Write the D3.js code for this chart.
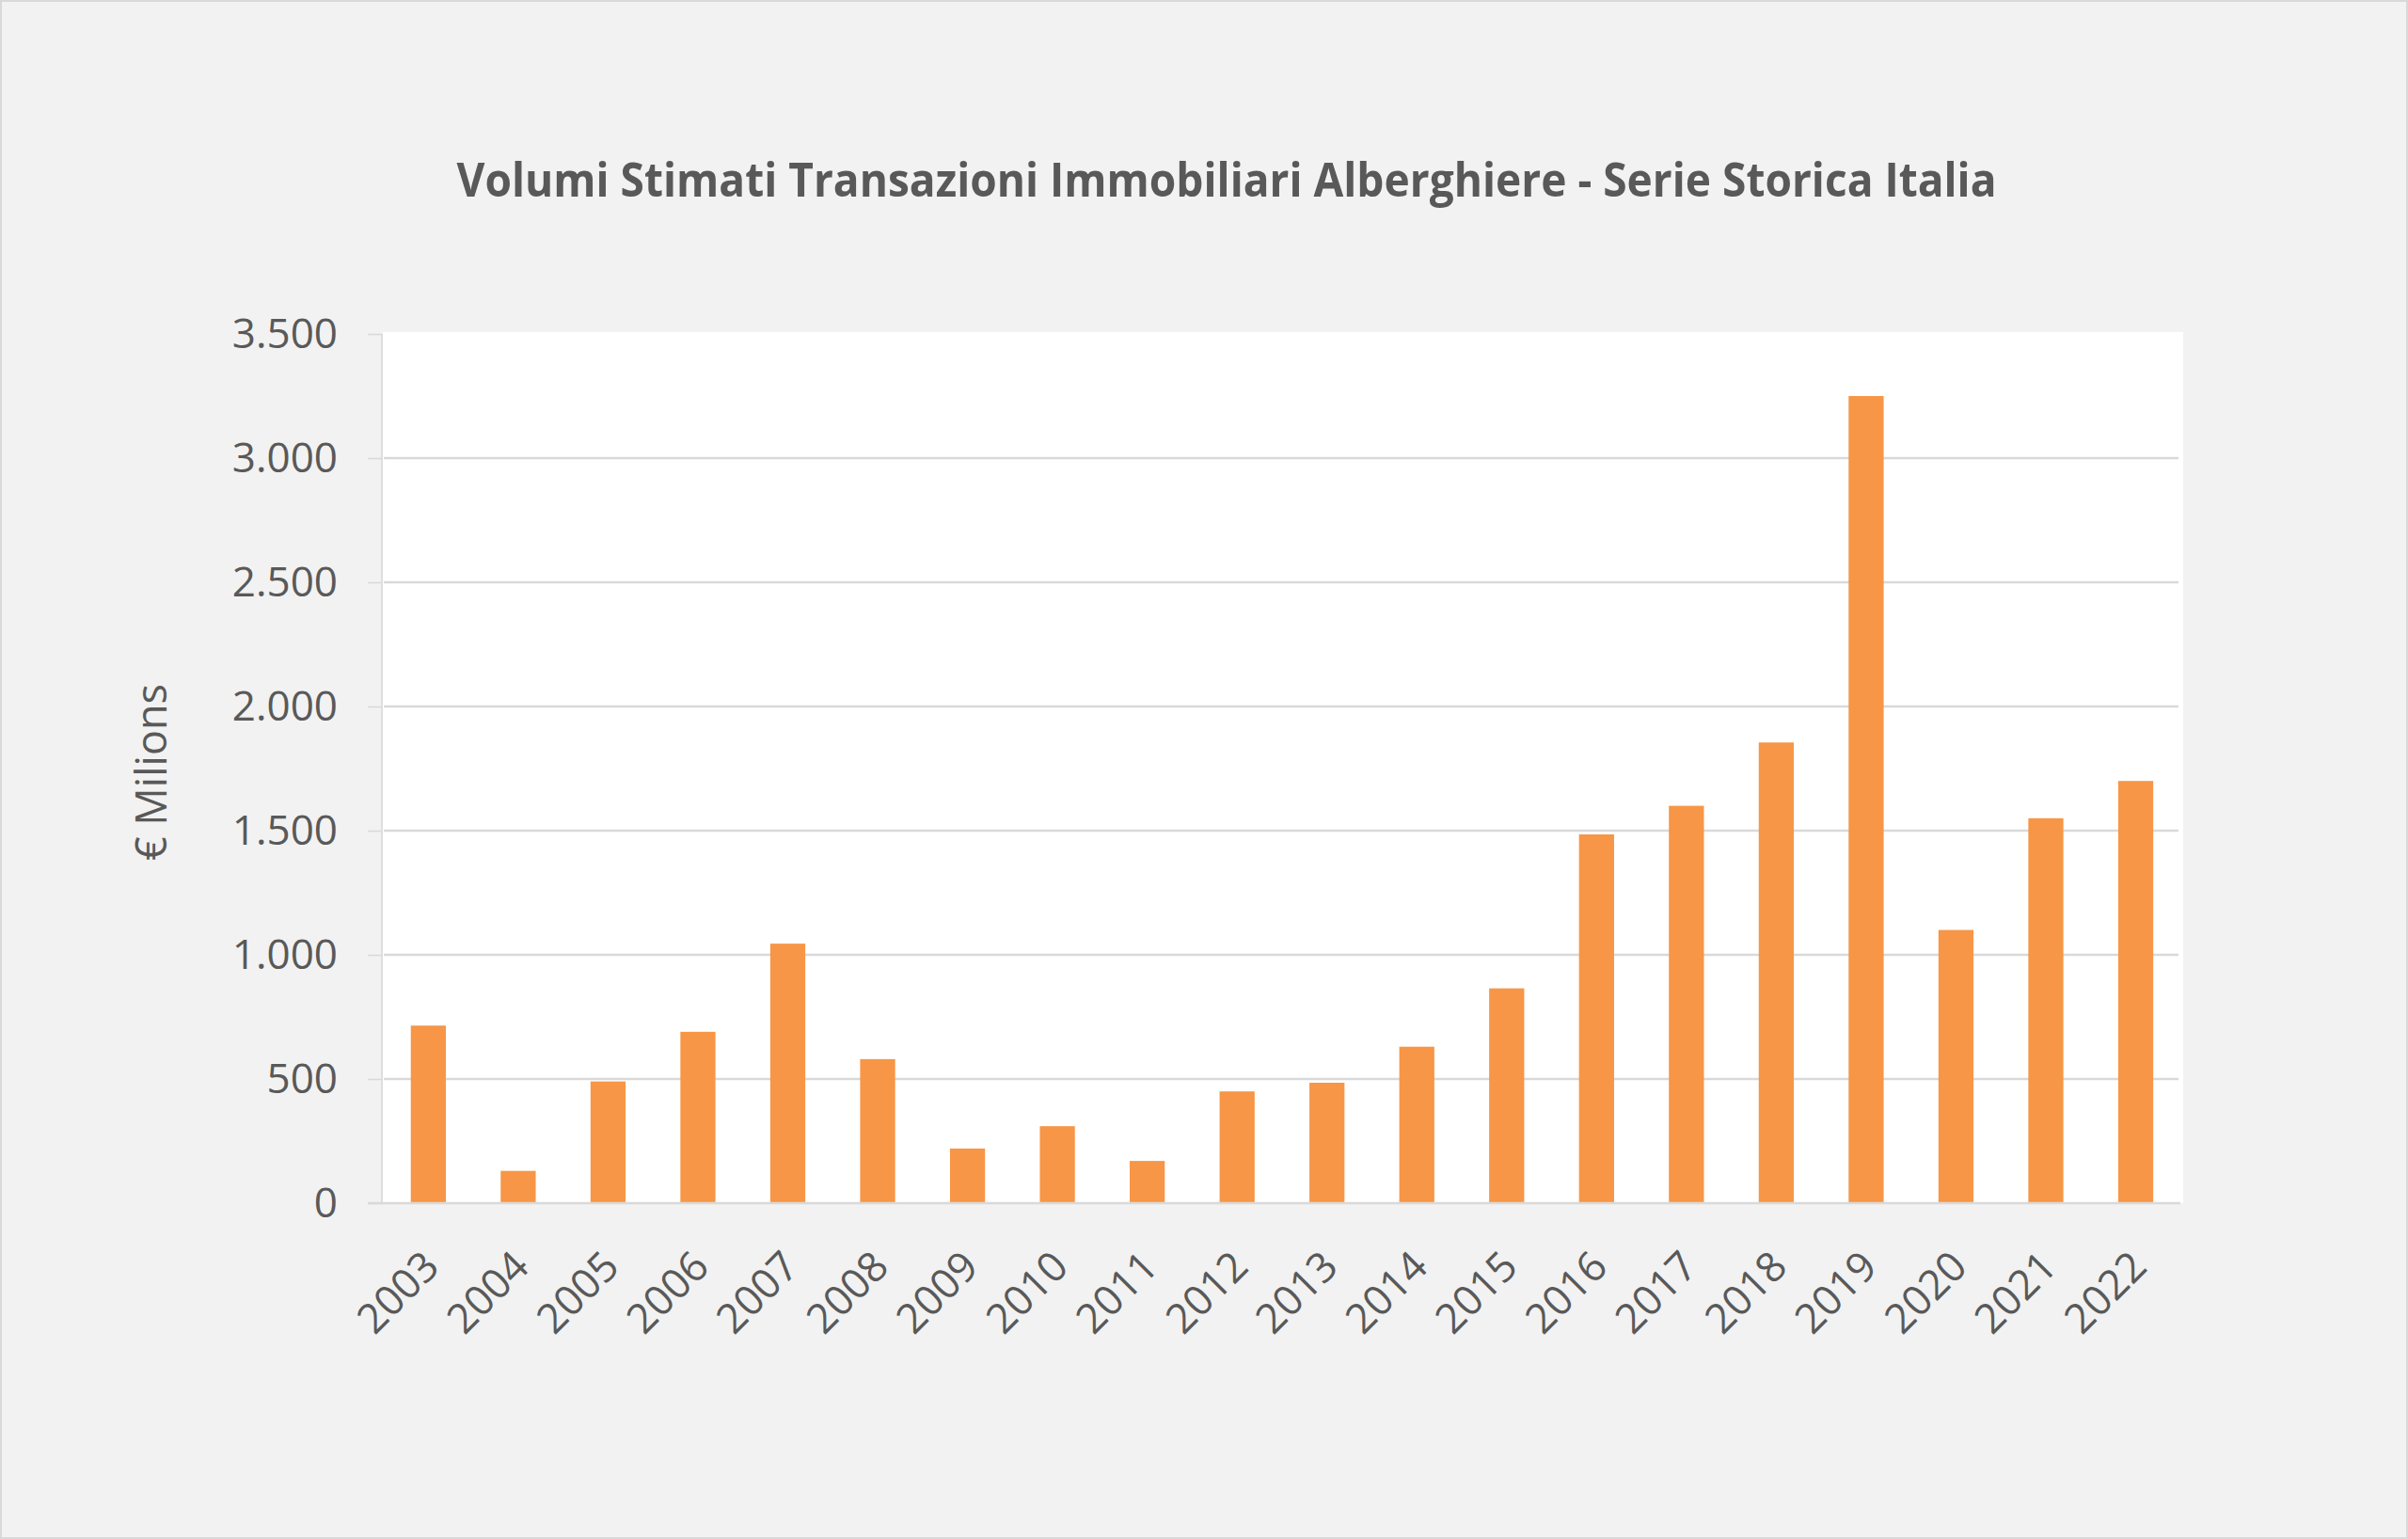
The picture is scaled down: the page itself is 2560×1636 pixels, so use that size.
<!DOCTYPE html>
<html>
<head>
<meta charset="utf-8">
<script src="https://cdn.jsdelivr.net/npm/d3@7"></script>
<style>
  html, body { margin: 0; padding: 0; background: #F2F2F2; }
  svg { display: block; }
</style>
</head>
<body>
<script>
const years = ["2003","2004","2005","2006","2007","2008","2009","2010","2011","2012",
               "2013","2014","2015","2016","2017","2018","2019","2020","2021","2022"];
const volumes = [715, 130, 490, 690, 1045, 580, 220, 310, 170, 450,
                 485, 630, 865, 1485, 1600, 1855, 3250, 1100, 1550, 1700];
const yTicks = [0, 500, 1000, 1500, 2000, 2500, 3000, 3500];
const yTickLabels = ["0", "500", "1.000", "1.500", "2.000", "2.500", "3.000", "3.500"];
const titleText = "Volumi Stimati Transazioni Immobiliari Alberghiere - Serie Storica Italia";
const yAxisTitle = "€ Milions";

const W = 2560, H = 1636;
const plot = { left: 407.6, right: 2318.3, top: 355, bottom: 1279 };
const textColor = "#595959";
const gridColor = "#D9D9D9";
const barColor = "#F79646";
const font = "'Open Sans', 'Noto Sans', sans-serif";

const svg = d3.select("body").append("svg").attr("width", W).attr("height", H);

// background + border
svg.append("rect").attr("x", 1).attr("y", 1).attr("width", W - 2).attr("height", H - 2)
  .attr("fill", "#F2F2F2").attr("stroke", "#D9D9D9").attr("stroke-width", 2);

// plot area
svg.append("rect").attr("x", 407).attr("y", 353).attr("width", 2321 - 407).attr("height", 1279 - 353)
  .attr("fill", "#FFFFFF");

const x = d3.scaleBand().domain(years).range([plot.left, plot.right])
  .paddingInner(0.61).paddingOuter(0.305);
const y = d3.scaleLinear().domain([0, 3500]).range([plot.bottom, plot.top]);

// gridlines (exclude 0 and 3500)
svg.append("g").selectAll("line").data(yTicks.filter(d => d > 0 && d < 3500)).join("line")
  .attr("x1", 408).attr("x2", 2316)
  .attr("y1", d => y(d)).attr("y2", d => y(d))
  .attr("stroke", gridColor).attr("stroke-width", 2.6);

// bars
svg.append("g").selectAll("rect").data(years).join("rect")
  .attr("x", d => x(d))
  .attr("width", x.bandwidth())
  .attr("y", (d, i) => y(volumes[i]))
  .attr("height", (d, i) => y(0) - y(volumes[i]))
  .attr("fill", barColor);

// y axis
const yAxis = d3.axisLeft(y).tickValues(yTicks)
  .tickFormat((d, i) => yTickLabels[i]).tickSize(15).tickPadding(32);
const gy = svg.append("g").attr("transform", "translate(406,0)").call(yAxis);
gy.select(".domain").attr("stroke", gridColor).attr("stroke-width", 1.6)
  .attr("d", `M0,${plot.top}V${plot.bottom}`);
gy.selectAll(".tick line").attr("stroke", gridColor).attr("stroke-width", 1.6);
gy.selectAll(".tick text").attr("fill", textColor)
  .style("font-family", font).style("font-size", "44px");

// x axis baseline
svg.append("line").attr("x1", 391).attr("x2", 2318).attr("y1", plot.bottom).attr("y2", plot.bottom)
  .attr("stroke", gridColor).attr("stroke-width", 2.6);

// x labels
const xAxis = d3.axisBottom(x).tickSize(0).tickPadding(0);
const gx = svg.append("g").attr("transform", `translate(0,${plot.bottom})`).call(xAxis);
gx.select(".domain").remove();
gx.selectAll(".tick text")
  .attr("fill", textColor)
  .style("font-family", font).style("font-size", "44px")
  .attr("text-anchor", "end")
  .attr("dy", 0).attr("y", 0)
  .attr("transform", "translate(14,70) rotate(-45)");

// title
svg.append("text")
  .attr("x", 1304).attr("y", 209)
  .attr("text-anchor", "middle")
  .attr("fill", textColor)
  .style("font-family", font).style("font-weight", 700).style("font-size", "51px")
  .attr("textLength", 1637).attr("lengthAdjust", "spacingAndGlyphs")
  .text(titleText);

// y axis title
svg.append("text")
  .attr("transform", "translate(177,821) rotate(-90)")
  .attr("text-anchor", "middle")
  .attr("fill", textColor)
  .style("font-family", font).style("font-size", "45px")
  .text(yAxisTitle);
</script>
</body>
</html>
